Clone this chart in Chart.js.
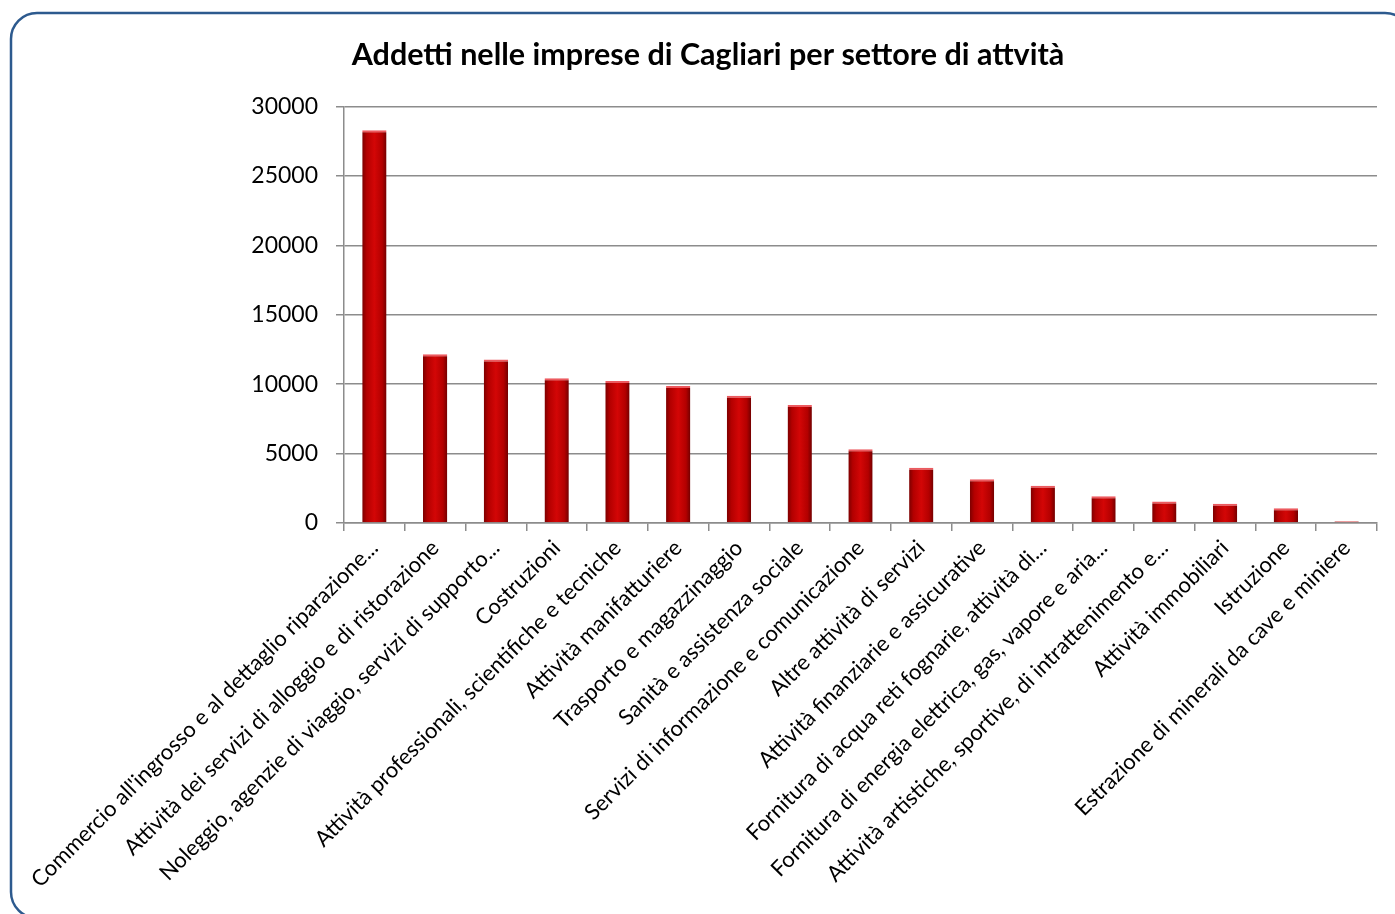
<!DOCTYPE html>
<html>
<head>
<meta charset="utf-8">
<script src="https://cdn.jsdelivr.net/npm/chart.js@4/dist/chart.umd.min.js"></script>
<style>
  body { margin: 0; background: #fff; }
  .container { width: 1395px; height: 914px; position: relative; }
</style>
</head>
<body>
<div class="container"><canvas id="addettiChart"></canvas></div>
<script>
// settori (etichette come nel grafico originale, già troncate)
const settori = [
  "Commercio all'ingrosso e al dettaglio riparazione...",
  "Attività dei servizi di alloggio e di ristorazione",
  "Noleggio, agenzie di viaggio, servizi di supporto...",
  "Costruzioni",
  "Attività professionali, scientifiche e tecniche",
  "Attività manifatturiere",
  "Trasporto e magazzinaggio",
  "Sanità e assistenza sociale",
  "Servizi di informazione e comunicazione",
  "Altre attività di servizi",
  "Attività finanziarie e assicurative",
  "Fornitura di acqua reti fognarie, attività di...",
  "Fornitura di energia elettrica, gas, vapore e aria...",
  "Attività artistiche, sportive, di intrattenimento e...",
  "Attività immobiliari",
  "Istruzione",
  "Estrazione di minerali da cave e miniere"
];

// addetti per settore
const addetti = [28300, 12150, 11780, 10420, 10230, 9870, 9170, 8500, 5310, 3980, 3150, 2690, 1920, 1540, 1390, 1060, 120];

const yMin = 0;
const yMax = 30000;
const yStep = 5000;

const titolo = 'Addetti nelle imprese di Cagliari per settore di attvità';

// cornice arrotondata blu attorno al grafico
const cornice = {
  id: 'cornice',
  beforeDraw(chart) {
    const c = chart.ctx;
    c.save();
    c.strokeStyle = '#2d5a8e';
    c.lineWidth = 2.5;
    c.beginPath();
    c.roundRect(11, 13, 1400, 905, 26);
    c.stroke();
    c.restore();
  }
};

// colore delle barre: gradiente orizzontale per l'effetto "cilindro"
function coloreBarra(ctx) {
  const chart = ctx.chart;
  const xs = chart.scales.x;
  if (!xs || !(xs.width > 0)) return '#c00000';
  const cx = xs.getPixelForValue(ctx.dataIndex);
  const half = (xs.width / settori.length) * 0.4 / 2;
  if (!isFinite(cx) || !isFinite(half) || half <= 0) return '#c00000';
  const g = chart.ctx.createLinearGradient(cx - half, 0, cx + half, 0);
  g.addColorStop(0, '#7c0000');
  g.addColorStop(0.18, '#b30000');
  g.addColorStop(0.5, '#d30606');
  g.addColorStop(0.82, '#b30000');
  g.addColorStop(1, '#720000');
  return g;
}

const ctx = document.getElementById('addettiChart').getContext('2d');
new Chart(ctx, {
  type: 'bar',
  data: {
    labels: settori,
    datasets: [{
      label: 'Addetti',
      data: addetti,
      backgroundColor: coloreBarra,
      borderColor: '#ec5a5f',
      borderWidth: { top: 2, left: 0, right: 0, bottom: 0 },
      borderSkipped: 'bottom',
      barPercentage: 0.4,
      categoryPercentage: 1.0
    }]
  },
  options: {
    responsive: true,
    maintainAspectRatio: false,
    animation: false,
    layout: {
      padding: { left: 39, right: 18, top: 0, bottom: 0 }
    },
    scales: {
      y: {
        min: yMin,
        max: yMax,
        ticks: {
          stepSize: yStep,
          color: '#000',
          padding: 18,
          font: { family: 'Lato', size: 23 },
          callback: (v) => String(v)
        },
        grid: {
          color: '#8c8c8c',
          lineWidth: 1.5,
          tickLength: 8
        },
        border: { color: '#8c8c8c', width: 1.5 },
        afterFit(scale) { scale.width = 305; }
      },
      x: {
        ticks: {
          color: '#000',
          minRotation: 45,
          maxRotation: 45,
          autoSkip: false,
          padding: 4,
          font: { family: 'Lato', size: 22 }
        },
        grid: {
          offset: true,
          drawOnChartArea: false,
          color: '#8c8c8c',
          lineWidth: 1.5,
          tickLength: 8
        },
        border: { color: '#8c8c8c', width: 1.5 },
        afterFit(scale) { scale.height = 391; }
      }
    },
    plugins: {
      legend: { display: false },
      tooltip: { enabled: false },
      title: {
        display: true,
        text: titolo,
        color: '#000',
        font: { family: 'Lato', size: 30.5, weight: 'bold', lineHeight: 1.2 },
        padding: { top: 37, bottom: 33 }
      }
    }
  },
  plugins: [cornice]
});
</script>
</body>
</html>
